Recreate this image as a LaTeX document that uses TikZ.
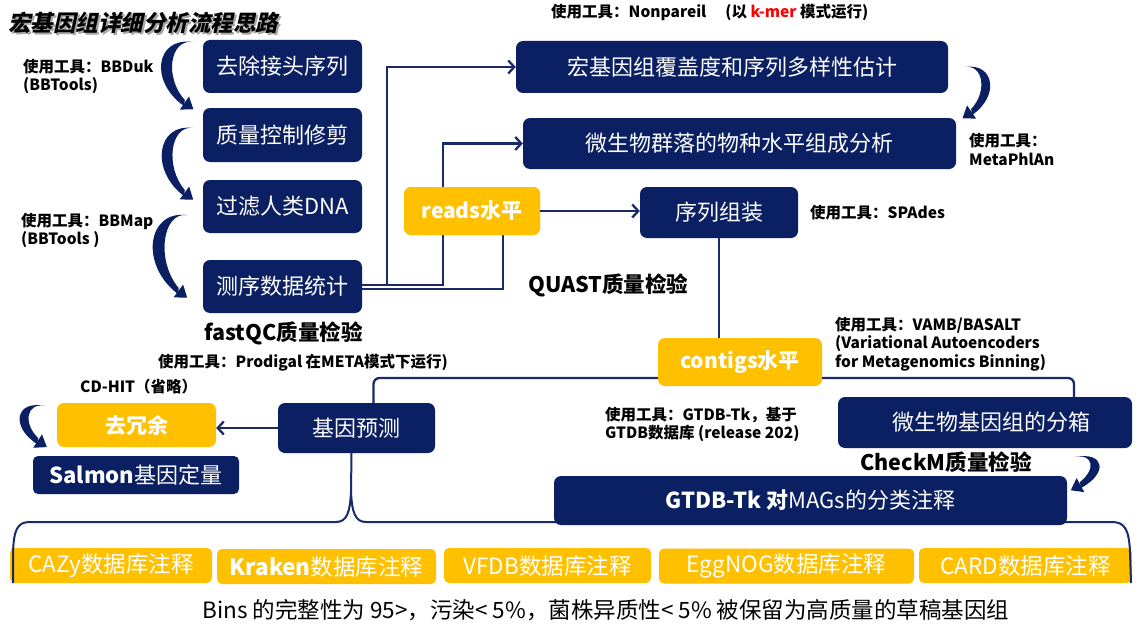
\documentclass[tikz,border=0pt]{standalone}
\usepackage{fontspec}
\setmainfont{Noto Sans CJK SC}
\newfontfamily\titlef{Noto Sans CJK SC}[FakeSlant=0.22]
\usetikzlibrary{calc,arrows.meta}
\definecolor{navy}{RGB}{11,31,99}
\definecolor{gold}{RGB}{255,192,0}
\definecolor{lnc}{RGB}{24,42,108}
\newcommand\fs[1]{\fontsize{#1}{#1}\selectfont}
% curved tapered arrow: #1 start, #2 end, #3 bulge, #4 side angle
\newcommand\crarrow[4]{%
 \coordinate (cS) at #1; \coordinate (cE) at #2;
 \coordinate (cP) at ($(cS)!#3!#4:(cE)$);
 \coordinate (cQ) at ($(cE)+(cP)-(cS)+0.3*(cS)-0.3*(cE)$);
 \coordinate (cEi) at ($(cE)!6pt!(cS)$);
 \coordinate (cPi) at ($(cS)!0.62!(cP)$);
 \coordinate (cQi) at ($(cEi)+(cPi)-(cS)+0.3*(cS)-0.3*(cE)$);
 \fill[navy] (cS) .. controls (cP) and (cQ) .. (cE) -- (cEi) .. controls (cQi) and (cPi) .. (cS) -- cycle;
 \coordinate (cM) at ($(cE)!0.5!(cEi)$);
 \coordinate (cF) at ($(cM)+(cE)-(cQ)$);
 \coordinate (cT) at ($(cM)!11pt!(cF)$);
 \coordinate (cB1) at ($(cM)!8pt!90:(cF)$);
 \coordinate (cB2) at ($(cM)!8pt!-90:(cF)$);
 \fill[navy] (cB1) -- (cT) -- (cB2) -- cycle;
}
\tikzset{
 nbox/.style={fill=navy, rounded corners=7pt, text=white, inner sep=0pt, font=\fs{22}},
 ybox/.style={fill=gold, rounded corners=7pt, text=white, inner sep=0pt, font=\fs{21}\bfseries},
 bbox/.style={fill=gold, rounded corners=5pt, text=white, inner sep=0pt, font=\fs{22.5}, minimum height=35},
 conn/.style={draw=lnc, line width=2.3pt},
 arr/.style={-{Straight Barb[length=6pt,width=13pt]}},
 lbl/.style={font=\fs{15.5}\bfseries, anchor=west, inner sep=0pt, text=black, align=left},
 big/.style={font=\fs{21.5}\bfseries, anchor=west, inner sep=0pt, text=black},
}
\begin{document}
\begin{tikzpicture}[x=1pt,y=-1pt]
\useasboundingbox[fill=white] (0,0) rectangle (1141,642);
% title
\node[anchor=west, inner sep=0pt, text=gray!70, font=\titlef\fs{22.5}\bfseries] at (10,25) {宏基因组详细分析流程思路};
\node[anchor=west, inner sep=0pt, text=black, font=\titlef\fs{22.5}\bfseries] (title) at (8,23) {宏基因组详细分析流程思路};

% left column
\node[nbox, minimum width=159, minimum height=53] (rm) at (282.5,66.5) {去除接头序列};
\node[nbox, minimum width=159, minimum height=54] (qc) at (282.5,135) {质量控制修剪};
\node[nbox, minimum width=159, minimum height=53] (flt) at (282.5,206.5) {过滤人类DNA};
\node[nbox, minimum width=159, minimum height=53] (stat) at (282.5,286.5) {测序数据统计};

% right upper
\node[nbox, minimum width=432, minimum height=52] (cover) at (732,67) {宏基因组覆盖度和序列多样性估计};
\node[nbox, minimum width=433, minimum height=51] (comm) at (739.5,143.5) {微生物群落的物种水平组成分析};
\node[ybox, minimum width=136, minimum height=48] (reads) at (472,211) {reads水平};
\node[nbox, minimum width=158, minimum height=51] (asm) at (719,212.5) {序列组装};
\node[ybox, minimum width=164, minimum height=48] (contigs) at (740,362) {contigs水平};
\node[nbox, minimum width=157, minimum height=50] (gene) at (356.5,428) {基因预测};
\node[ybox, minimum width=159, minimum height=44] (dedup) at (136.5,425) {去冗余};
\node[nbox, minimum width=206, minimum height=38, rounded corners=5pt] (salmon) at (136,475) {\bfseries Salmon\mdseries 基因定量};
\node[nbox, minimum width=294, minimum height=51] (bin) at (985,422.5) {\hspace{12pt}微生物基因组的分箱};

% bottom boxes
\node[bbox, minimum width=202] (cazy) at (111,565.5) {CAZy数据库注释};
\node[bbox, minimum width=219] (kraken) at (326.5,566.5) {\bfseries Kraken\mdseries 数据库注释};
\node[bbox, minimum width=207] (vfdb) at (547.5,565.5) {VFDB数据库注释};
\node[bbox, minimum width=255] (egg) at (786.5,566) {EggNOG数据库注释};
\node[bbox, minimum width=213] (card) at (1025.5,565.5) {CARD数据库注释};

% brace
\coordinate (brL) at (13,583);
\coordinate (brR) at (1131,583);
\coordinate (brT) at ([xshift=-5pt]gene.south);
\draw[conn, line width=2pt] (brL) -- (13,552) .. controls (14,530) and (17,522) .. (30,522) -- (336,522)
   .. controls (347,522) and (350,512) .. (351,492) -- (brT);
\draw[conn, line width=2pt] (351,492) .. controls (352,512) and (355,522) .. (366,522) -- (1112,522)
   .. controls (1125,522) and (1129,530) .. (1130,552) -- (brR);

\node[nbox, minimum width=513, minimum height=49] (gtdb) at (810.5,500.5) {\bfseries GTDB-Tk 对\mdseries MAGs的分类注释};

% connectors
\draw[conn, arr] ([yshift=1.5pt]stat.east) -- ++(25,0) |- (cover.west);
\draw[conn, arr] ([yshift=1.5pt]stat.east) -- ++(81,0) |- (comm.west);
\draw[conn] ([yshift=-2.5pt]stat.east) -| ([xshift=31pt]reads.south);
\node[ybox, minimum width=136, minimum height=48] at (reads) {reads水平};
\draw[conn, arr] (reads.east) -- (reads.east -| asm.west);
\draw[conn] (asm.south) -- (asm.south |- contigs.north);
\draw[conn, rounded corners=6pt] ([yshift=-16pt]contigs.west) -| ([xshift=17pt]gene.north);
\draw[conn, rounded corners=6pt] ([yshift=-16pt]contigs.east) -| ([xshift=89pt]bin.north);
\draw[conn, arr] (gene.west) -- (gene.west -| dedup.east);

% curved arrows
\crarrow{(193,42)}{(184,106)}{38pt}{-90}
\crarrow{(193,128)}{(184,196)}{37pt}{-90}
\crarrow{(187,215)}{(178,294)}{41pt}{-90}
\crarrow{(965,67)}{(972,115)}{30pt}{90}
\crarrow{(1075,457)}{(1081,488)}{30pt}{90}
\crarrow{(45,406)}{(37,444)}{30pt}{-90}

% labels
\node[lbl] (l1) at (23,67) {使用工具：BBDuk};
\node[lbl] (l1b) at (23,86) {(BBTools)};
\node[lbl] (l2) at (21,221) {使用工具：BBMap};
\node[lbl] (l2b) at (21,240) {(BBTools )};
\node[lbl] (l3) at (551,12) {使用工具：Nonpareil\quad\ (以 {\color{red}k-mer} 模式运行)};
\node[lbl] (l4) at (969,141) {使用工具：};
\node[lbl] (l4b) at (969,159) {MetaPhlAn};
\node[lbl] (l5) at (810,213) {使用工具：SPAdes};
\node[big] (quast) at (528,285) {QUAST质量检验};
\node[big] (fastqc) at (204,333) {fastQC质量检验};
\node[lbl] (l6) at (158,363) {使用工具：Prodigal 在META模式下运行)};
\node[lbl] (l7) at (80,387) {CD-HIT（省略）};
\node[lbl] (l8) at (835,325) {使用工具：VAMB/BASALT};
\node[lbl] (l8b) at (835,344) {(Variational Autoencoders};
\node[lbl] (l8c) at (835,363) {for Metagenomics Binning)};
\node[lbl] (l9) at (605,415) {使用工具：GTDB-Tk，基于};
\node[lbl] (l9b) at (605,433) {GTDB数据库 (release 202)};
\node[big] (checkm) at (860,462) {CheckM质量检验};
\node[inner sep=0pt, font=\fs{22.5}, text=black] (note) at (606,610) {Bins 的完整性为 95>，污染< 5\%，菌株异质性< 5\% 被保留为高质量的草稿基因组};
\end{tikzpicture}
\end{document}
